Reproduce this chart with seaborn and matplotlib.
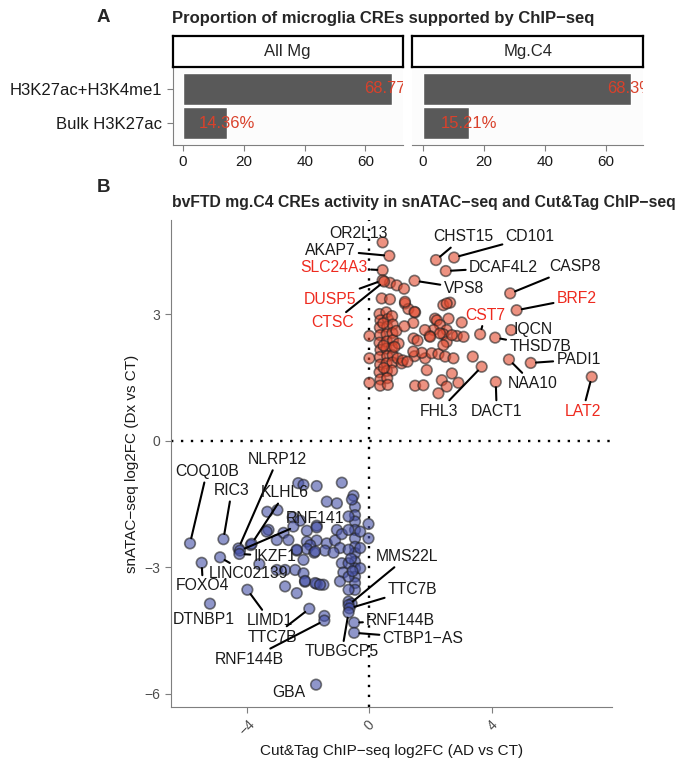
import matplotlib
matplotlib.use('Agg')
import matplotlib.pyplot as plt
import numpy as np
import pandas as pd
import seaborn as sns

sns.set_style('white')
plt.rcParams['font.family'] = ['Liberation Sans', 'DejaVu Sans']

# ---- panel A data ----
marks = ['H3K27ac+H3K4me1', 'Bulk H3K27ac']
facets = ['All Mg', 'Mg.C4']
pct_all_mg = [68.77, 14.36]
pct_mgc4 = [68.3, 15.21]
pct_text_all_mg = ['68.77%', '14.36%']
pct_text_mgc4 = ['68.3%', '15.21%']

# ---- panel B data: unlabelled CREs (Cut&Tag log2FC, snATAC log2FC) ----
up_x = [0.0, 0.0, 0.0, 0.67, 0.89, 1.13, 0.40, 0.67, 1.16, 1.27, 1.49,
        0.33, 0.55, 0.36, 0.60, 0.74, 0.34, 0.58, 0.76, 0.35, 0.56, 0.75,
        0.33, 0.57, 0.77, 0.36, 0.55, 0.74, 0.34, 0.58, 0.76, 0.35, 0.56,
        0.75, 0.33, 0.57, 0.74, 0.36, 0.58, 0.35, 0.60, 0.45, 0.46, 0.47,
        0.88, 0.95, 0.92,
        1.16, 1.47, 1.43, 1.14, 1.44, 1.57, 0.82, 1.05, 1.09, 1.47, 1.24,
        1.82, 1.71, 1.43, 2.03, 2.25, 2.47, 2.74, 1.87, 2.41, 2.63, 2.52,
        2.14, 2.58, 3.01, 2.20, 2.30, 2.52, 2.09, 2.41, 1.96, 1.81, 2.85,
        3.07, 2.52, 2.69, 2.41, 2.30, 3.37, 2.69, 2.36, 2.90, 2.52, 2.25,
        1.49, 1.76, 1.98]
up_y = [2.48, 1.95, 1.37, 3.74, 3.68, 3.60, 3.37, 3.35, 3.25, 3.12, 3.04,
        3.00, 3.04, 2.85, 2.88, 2.95, 2.68, 2.70, 2.75, 2.50, 2.52, 2.55,
        2.32, 2.35, 2.38, 2.15, 2.18, 2.20, 1.98, 2.00, 2.02, 1.80, 1.83,
        1.85, 1.62, 1.65, 1.66, 1.45, 1.48, 1.30, 1.32, 2.78, 2.25, 1.72,
        2.60, 2.30, 1.95,
        3.29, 3.05, 2.79, 2.71, 2.42, 2.37, 2.22, 1.83, 1.90, 2.00, 1.87,
        1.95, 2.08, 2.11, 2.07, 2.05, 1.99, 1.95, 1.67, 3.21, 3.27, 3.25,
        2.89, 2.89, 2.80, 2.85, 2.74, 2.62, 2.62, 2.52, 2.48, 2.62, 2.48,
        2.46, 2.34, 2.50, 2.26, 2.54, 1.99, 1.59, 1.43, 1.37, 1.28, 1.12,
        1.30, 1.31, 2.46]

dn_x = [-2.32, -2.15, -1.72, -0.90, -0.52, -1.39, -1.06, -3.33, -3.00, -2.50,
        -2.26, -1.72, -3.29, -2.80, -3.35, -2.48, -2.04, -3.87, -3.02, -2.64,
        -2.04, -1.72, -1.39, -1.93, -2.37, -2.04, -1.80, -1.45, -1.77, -2.15,
        -3.59, -1.06, -1.12, -0.90, -0.96, -1.17, -0.90, -0.85, -3.02, -2.75,
        -2.42, -2.15, -2.75, -2.37, -2.10, -1.72, -1.50, -1.77, -1.61, -0.96,
        -0.03, -0.03, -0.68, -0.58, -1.47, -1.72, -2.37, -2.10,
        -0.47, -0.47, -0.47, -0.47, -0.47, -0.47, -0.47, -0.47, -0.47, -0.47,
        -0.47, -0.47, -0.68, -0.68, -0.68, -0.68, -0.68, -0.68, -0.30, -0.30,
        -0.30, -0.57, -0.60, -0.55]
dn_y = [-1.01, -1.05, -1.08, -1.00, -1.31, -1.45, -1.49, -1.69, -1.65, -1.82,
        -1.90, -2.02, -2.12, -2.19, -2.16, -2.04, -2.14, -2.48, -2.36, -2.36,
        -2.40, -2.37, -2.44, -2.48, -2.61, -2.57, -2.66, -2.61, -2.63, -2.83,
        -2.93, -2.12, -2.37, -2.22, -2.55, -2.66, -2.91, -3.13, -3.07, -3.07,
        -3.07, -3.15, -3.46, -3.62, -3.35, -3.40, -3.42, -3.38, -3.42, -3.34,
        -1.98, -2.32, -3.82, -3.87, -4.16, -2.06, -2.59, -3.33,
        -1.57, -1.77, -1.92, -2.12, -2.32, -2.52, -2.67, -2.87, -3.03, -3.23,
        -3.38, -3.54, -1.80, -2.12, -2.59, -2.91, -3.23, -3.54, -2.16, -2.55,
        -3.03, -1.40, -2.80, -3.10]

# ---- panel B data: labelled genes ----
genes = ['OR2L13', 'AKAP7', 'SLC24A3', 'DUSP5', 'CTSC', 'CHST15', 'CD101',
         'DCAF4L2', 'VPS8', 'CASP8', 'BRF2', 'CST7', 'IQCN', 'THSD7B', 'PADI1',
         'NAA10', 'FHL3', 'DACT1', 'LAT2',
         'COQ10B', 'NLRP12', 'RIC3', 'KLHL6', 'RNF141', 'IKZF1', 'LINC02139',
         'FOXO4', 'DTNBP1', 'LIMD1', 'TTC7B', 'RNF144B', 'GBA', 'MMS22L',
         'TTC7B', 'RNF144B', 'CTBP1\u2212AS', 'TUBGCP5']
gene_x = [0.43, 0.65, 0.43, 0.43, 0.48, 2.17, 2.76, 2.49, 1.47, 4.59, 4.80,
          3.61, 4.62, 4.10, 5.26, 4.55, 3.66, 4.12, 7.25,
          -5.85, -4.27, -4.76, -3.84, -4.22, -4.24, -4.87, -5.47, -5.20, -3.98,
          -1.96, -1.47, -1.74, -0.68, -0.65, -0.50, -0.50, -0.68]
gene_y = [4.70, 4.38, 4.04, 3.80, 3.77, 4.28, 4.34, 4.02, 3.79, 3.49, 3.09,
          2.52, 2.62, 2.44, 1.84, 1.92, 1.75, 1.39, 1.51,
          -2.44, -2.56, -2.34, -2.45, -2.61, -2.69, -2.77, -2.90, -3.87, -3.54,
          -3.99, -4.27, -5.79, -3.90, -3.98, -4.32, -4.56, -4.08]
red_genes = ['SLC24A3', 'DUSP5', 'CTSC', 'BRF2', 'CST7', 'LAT2']

# label placement (repelled text positions) and whether a segment is drawn
label_xy = [(-0.34, 4.91), (-1.28, 4.51), (-1.15, 4.10), (-1.28, 3.35),
            (-1.20, 2.79), (3.07, 4.83), (5.24, 4.83), (4.37, 4.10),
            (3.07, 3.61), (6.71, 4.12), (6.76, 3.37), (3.77, 2.97),
            (5.35, 2.64), (5.57, 2.24), (6.82, 1.92), (5.33, 1.35),
            (2.27, 0.70), (4.15, 0.70), (6.96, 0.70),
            (-5.30, -0.74), (-3.00, -0.45), (-4.49, -1.19), (-2.75, -1.24),
            (-1.77, -1.84), (-3.08, -2.74), (-3.95, -3.16), (-5.43, -3.45),
            (-5.39, -4.24), (-3.24, -4.27), (-3.15, -4.66), (-3.91, -5.19),
            (-2.64, -5.98), (1.24, -2.75), (1.41, -3.53), (1.02, -4.27),
            (1.75, -4.69), (-0.90, -5.01)]
no_segment = ['OR2L13', 'IQCN', 'DTNBP1', 'GBA']

up_col = '#E2492E'
dn_col = '#4550A8'
red_txt = '#EE2A1F'

fig = plt.figure(figsize=(6.96, 7.61), dpi=100)
W, H = 696.0, 761.0


def fig_box(x0, y0, x1, y1):
    return [x0 / W, 1 - y1 / H, (x1 - x0) / W, (y1 - y0) / H]


# ---------------- panel A ----------------
fig.text(103 / W, 1 - 17 / H, 'A', fontsize=13.5, fontweight='bold', ha='center', va='center')
fig.text(172 / W, 1 - 18 / H, 'Proportion of microglia CREs supported by ChIP\u2212seq',
         fontsize=12, fontweight='bold', ha='left', va='center')

panel_a = [(fig_box(172.6, 67, 402.5, 145), pct_all_mg, pct_text_all_mg),
           (fig_box(412.3, 67, 643, 145), pct_mgc4, pct_text_mgc4)]
for i, (box, vals, txts) in enumerate(panel_a):
    ax = fig.add_axes(box)
    df = pd.DataFrame({'mark': marks, 'pct': vals})
    sns.barplot(data=df, x='pct', y='mark', color='#595959', saturation=1,
                width=0.92, ax=ax)
    for j, (v, t) in enumerate(zip(vals, txts)):
        ax.text(v, j, t, ha='center', va='center', color='#D9412B', fontsize=12,
                clip_on=True)
    ax.set_xlim(-3.44, 72.2)
    ax.set_ylim(1.62, -0.62)
    ax.set_xticks([0, 20, 40, 60])
    ax.set_xlabel('')
    ax.set_ylabel('')
    ax.set_facecolor('#FCFCFC')
    for s in ['top', 'right']:
        ax.spines[s].set_visible(False)
    ax.spines['bottom'].set_color('#7F7F7F')
    ax.spines['left'].set_color('#7F7F7F')
    ax.tick_params(axis='x', colors='#7F7F7F', labelcolor='#1A1A1A', labelsize=11,
                   length=4, width=0.8, bottom=True)
    if i == 0:
        ax.tick_params(axis='y', colors='#7F7F7F', labelcolor='#1A1A1A', labelsize=12,
                       length=4, width=0.8, left=True)
    else:
        ax.spines['left'].set_visible(False)
        ax.set_yticks([])

    # facet strip
    sx = fig.add_axes([box[0], 1 - 67 / H, box[2], 31 / H])
    sx.set_xticks([])
    sx.set_yticks([])
    for s in sx.spines.values():
        s.set_visible(True)
        s.set_color('black')
        s.set_linewidth(1.6)
    sx.text(0.5, 0.5, facets[i], ha='center', va='center', fontsize=12, transform=sx.transAxes)

# ---------------- panel B ----------------
fig.text(103 / W, 1 - 187 / H, 'B', fontsize=13.5, fontweight='bold', ha='center', va='center')
fig.text(172 / W, 1 - 202 / H,
         'bvFTD mg.C4 CREs activity in snATAC\u2212seq and Cut&Tag ChIP\u2212seq',
         fontsize=11.3, fontweight='bold', ha='left', va='center')

ax = fig.add_axes(fig_box(171, 220, 612, 707))
pts = pd.DataFrame({
    'chip': up_x + dn_x + gene_x,
    'atac': up_y + dn_y + gene_y,
})
pts['dir'] = np.where(pts['atac'] > 0, 'up', 'down')

ax.axhline(0, color='black', lw=1.7, ls=(0, (1, 3.2)), zorder=1)
ax.axvline(0, color='black', lw=1.7, ls=(0, (1, 3.2)), zorder=1)

sns.scatterplot(data=pts, x='chip', y='atac', hue='dir',
                palette={'up': up_col, 'down': dn_col}, s=58, alpha=0.6,
                edgecolor='#222222', linewidth=1.2, legend=False, ax=ax, zorder=3)

for g, gx, gy, (lx, ly) in zip(genes, gene_x, gene_y, label_xy):
    col = red_txt if g in red_genes else '#1A1A1A'
    arrow = None
    if g not in no_segment:
        arrow = dict(arrowstyle='-', color='black', lw=1.5, shrinkA=0, shrinkB=3.8)
    ax.annotate(g, xy=(gx, gy), xytext=(lx, ly), textcoords='data',
                ha='center', va='center', fontsize=11.3, color=col,
                arrowprops=arrow, zorder=4)

ax.set_xlim(-6.47, 7.91)
ax.set_ylim(-6.32, 5.23)
ax.set_xticks([-4, 0, 4])
ax.set_xticklabels(['\u22124', '0', '4'], rotation=45, ha='center', va='top')
ax.set_yticks([-6, -3, 0, 3])
ax.set_yticklabels(['\u22126', '\u22123', '0', '3'])
ax.set_xlabel('Cut&Tag ChIP\u2212seq log2FC (AD vs CT)', fontsize=11, color='#1A1A1A')
ax.set_ylabel('snATAC\u2212seq log2FC (Dx vs CT)', fontsize=11, color='#1A1A1A')
for s in ['top', 'right']:
    ax.spines[s].set_visible(False)
ax.spines['bottom'].set_color('#7F7F7F')
ax.spines['left'].set_color('#7F7F7F')
ax.tick_params(colors='#7F7F7F', labelcolor='#4D4D4D', labelsize=10, length=4,
               width=0.8, bottom=True, left=True)

fig.savefig('out.png', dpi=100)
